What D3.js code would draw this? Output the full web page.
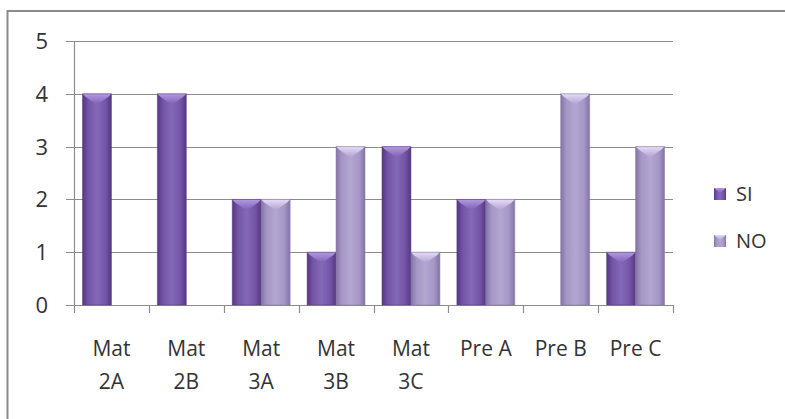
<!DOCTYPE html>
<html>
<head>
<meta charset="utf-8">
<script src="https://cdn.jsdelivr.net/npm/d3@7"></script>
<style>
  body { margin: 0; background: #fff; }
  svg { display: block; font-family: "Open Sans", Lato, sans-serif; }
</style>
</head>
<body>
<div class="chart"></div>
<script>
var categories = ["Mat 2A", "Mat 2B", "Mat 3A", "Mat 3B", "Mat 3C", "Pre A", "Pre B", "Pre C"];
var catLines = [["Mat", "2A"], ["Mat", "2B"], ["Mat", "3A"], ["Mat", "3B"], ["Mat", "3C"], ["Pre A"], ["Pre B"], ["Pre C"]];
var series = ["SI", "NO"];
var siValues = [4, 4, 2, 1, 3, 2, 0, 1];
var noValues = [0, 0, 2, 3, 1, 2, 4, 3];
var yTicks = [0, 1, 2, 3, 4, 5];

var width = 785, height = 419;
var plot = {left: 74, right: 673, top: 41, bottom: 305};

var svg = d3.select(".chart").append("svg")
    .attr("width", width)
    .attr("height", height);

// gradients for the beveled bars
var defs = svg.append("defs");
var palette = {
  SI: {edge: "#553783", mid: "#7354a6", light: "#8668b8", top: "#b39ae0", topEdge: "#7d5fb4"},
  NO: {edge: "#8474a6", mid: "#a597c6", light: "#b3a6d1", top: "#e6dcf6", topEdge: "#b09fd2"}
};
series.forEach(function(s) {
  var p = palette[s];
  var g = defs.append("linearGradient").attr("id", "body-" + s)
      .attr("x1", 0).attr("x2", 1).attr("y1", 0).attr("y2", 0);
  g.append("stop").attr("offset", "0%").attr("stop-color", p.edge);
  g.append("stop").attr("offset", "20%").attr("stop-color", p.mid);
  g.append("stop").attr("offset", "50%").attr("stop-color", p.light);
  g.append("stop").attr("offset", "80%").attr("stop-color", p.mid);
  g.append("stop").attr("offset", "100%").attr("stop-color", p.edge);
  var t = defs.append("linearGradient").attr("id", "top-" + s)
      .attr("x1", 0).attr("x2", 0).attr("y1", 0).attr("y2", 1);
  t.append("stop").attr("offset", "0%").attr("stop-color", p.top);
  t.append("stop").attr("offset", "100%").attr("stop-color", p.topEdge);
});

// outer frame (runs off the right and bottom of the picture)
svg.append("rect")
    .attr("x", 7.5).attr("y", 11)
    .attr("width", 900).attr("height", 600)
    .attr("fill", "none")
    .attr("stroke", "#8a8a8a")
    .attr("stroke-width", 2);

var x = d3.scaleBand()
    .domain(categories)
    .range([plot.left, plot.right])
    .padding(0);

var x1 = d3.scaleBand()
    .domain(series)
    .range([8.5, x.bandwidth() - 8.5])
    .padding(0);

var y = d3.scaleLinear()
    .domain([0, 5])
    .range([plot.bottom, plot.top]);

// gridlines
svg.append("g")
  .selectAll("line")
  .data(yTicks)
  .enter().append("line")
    .attr("x1", plot.left - 8)
    .attr("x2", plot.right)
    .attr("y1", function(d) { return Math.round(y(d)) + 0.5; })
    .attr("y2", function(d) { return Math.round(y(d)) + 0.5; })
    .attr("stroke", "#8c8c8c")
    .attr("stroke-width", 1.2);

// y axis line
svg.append("line")
    .attr("x1", plot.left + 0.5).attr("x2", plot.left + 0.5)
    .attr("y1", y(5)).attr("y2", y(0))
    .attr("stroke", "#8c8c8c")
    .attr("stroke-width", 1.2);

// y labels
svg.append("g")
  .selectAll("text")
  .data(yTicks)
  .enter().append("text")
    .attr("x", 48)
    .attr("y", function(d) { return y(d); })
    .attr("dy", "0.36em")
    .attr("text-anchor", "end")
    .attr("font-size", 22)
    .attr("fill", "#333")
    .text(function(d) { return d; });

// x ticks at band edges
var edges = categories.map(function(c) { return x(c); }).concat([plot.right]);
svg.append("g")
  .selectAll("line")
  .data(edges)
  .enter().append("line")
    .attr("x1", function(d) { return Math.round(d) + 0.5; })
    .attr("x2", function(d) { return Math.round(d) + 0.5; })
    .attr("y1", y(0))
    .attr("y2", y(0) + 8)
    .attr("stroke", "#8c8c8c")
    .attr("stroke-width", 1.2);

// x labels
var xl = svg.append("g")
  .selectAll("text")
  .data(categories)
  .enter().append("text")
    .attr("x", function(d) { return x(d) + x.bandwidth() / 2; })
    .attr("y", 356)
    .attr("text-anchor", "middle")
    .attr("font-size", 21)
    .attr("fill", "#333");
xl.each(function(d, i) {
  var el = d3.select(this);
  catLines[i].forEach(function(line, j) {
    el.append("tspan")
      .attr("x", x(d) + x.bandwidth() / 2)
      .attr("dy", j === 0 ? 0 : 33)
      .text(line);
  });
});

// bars
var rows = categories.map(function(c, i) {
  return {cat: c, SI: siValues[i], NO: noValues[i]};
});

function drawBar(sel, xs, v, s) {
  var bw = x1.bandwidth();
  var top = y(v), bot = y(0);
  sel.append("rect")
    .attr("x", xs).attr("y", top)
    .attr("width", bw).attr("height", bot - top)
    .attr("fill", "url(#body-" + s + ")");
  var mid = xs + bw / 2;
  sel.append("polygon")
    .attr("points", [
      [xs, top], [xs + bw, top], [xs + bw - 3, top + 3],
      [mid, top + 11], [xs + 3, top + 3]
    ].map(function(p) { return p.join(","); }).join(" "))
    .attr("fill", "url(#top-" + s + ")");
  sel.append("rect")
    .attr("x", xs).attr("y", top)
    .attr("width", bw).attr("height", bot - top)
    .attr("fill", "none")
    .attr("stroke", palette[s].edge)
    .attr("stroke-opacity", 0.5)
    .attr("stroke-width", 1);
}

var groups = svg.append("g")
  .selectAll("g")
  .data(rows)
  .enter().append("g")
    .attr("transform", function(d) { return "translate(" + x(d.cat) + ",0)"; });

groups.each(function(d) {
  var g = d3.select(this);
  series.forEach(function(s) {
    if (d[s] > 0) drawBar(g, x1(s), d[s], s);
  });
});

// legend
var legend = svg.append("g")
  .selectAll("g")
  .data(series)
  .enter().append("g")
    .attr("transform", function(d, i) { return "translate(714," + (188 + i * 47) + ")"; });

legend.each(function(s) {
  var g = d3.select(this);
  g.append("rect")
    .attr("width", 12).attr("height", 12)
    .attr("fill", "url(#body-" + s + ")");
  g.append("polygon")
    .attr("points", "0,0 12,0 6,5")
    .attr("fill", "url(#top-" + s + ")");
});

legend.append("text")
    .attr("x", 22)
    .attr("y", 6)
    .attr("dy", "0.36em")
    .attr("font-size", 20)
    .attr("fill", "#333")
    .text(function(d) { return d; });
</script>
</body>
</html>
